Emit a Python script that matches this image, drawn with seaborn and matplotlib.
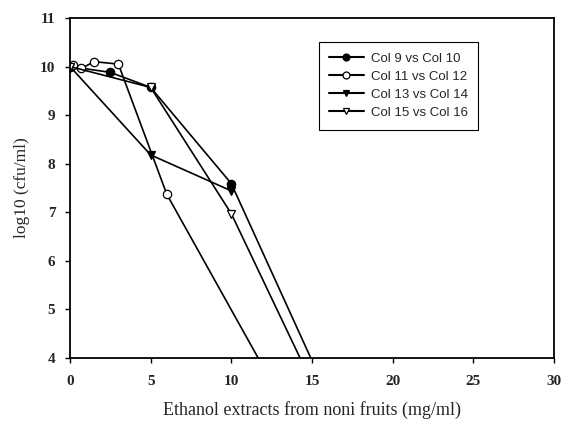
import numpy as np
import pandas as pd
import seaborn as sns
import matplotlib.pyplot as plt

# concentrations (mg/ml) and log10 counts for each pair of columns
x_9_10 = [0, 2.5, 5, 10, 20]
y_9_10 = [10.0, 9.88, 9.57, 7.59, 0.3]

x_11_12 = [0, 0.19, 0.7, 1.5, 3, 6, 12]
y_11_12 = [10.0, 10.03, 9.96, 10.1, 10.05, 7.37, 3.8]

x_13_14 = [0, 5, 10]
y_13_14 = [10.0, 8.18, 7.44]

x_15_16 = [0, 5, 10, 20]
y_15_16 = [10.0, 9.57, 6.97, 0.0]

labels = ['Col 9 vs Col 10', 'Col 11 vs Col 12', 'Col 13 vs Col 14', 'Col 15 vs Col 16']
x_ticks = [0, 5, 10, 15, 20, 25, 30]
y_ticks = [4, 5, 6, 7, 8, 9, 10, 11]

sns.set_style('ticks')
plt.rcParams['font.family'] = ['Liberation Serif', 'DejaVu Serif']

fig = plt.figure(figsize=(5.63, 4.24), dpi=100)
ax = fig.add_axes([0.1243, 0.1557, 0.8597, 0.802])

series = [
    (x_9_10, y_9_10, 'o', 'black'),
    (x_11_12, y_11_12, 'o', 'white'),
    (x_13_14, y_13_14, 'v', 'black'),
    (x_15_16, y_15_16, 'v', 'white'),
]

for (xs, ys, mk, fc), lab in zip(series, labels):
    df = pd.DataFrame({'x': xs, 'y': ys})
    sns.lineplot(data=df, x='x', y='y', ax=ax, sort=False, color='black',
                 linewidth=1.2, marker=mk, markersize=6,
                 markerfacecolor=fc, markeredgecolor='black',
                 markeredgewidth=0.9, label=lab)

ax.set_xlim(0, 30)
ax.set_ylim(4, 11)
ax.set_xticks(x_ticks)
ax.set_yticks(y_ticks)
for lbl in ax.get_xticklabels() + ax.get_yticklabels():
    lbl.set_fontweight('bold')
    lbl.set_fontsize(11)
ax.tick_params(axis='x', direction='out', length=3.5, width=1, color='black', pad=9)
ax.tick_params(axis='y', direction='out', length=3.5, width=1, color='black', pad=7)
for sp in ax.spines.values():
    sp.set_visible(True)
    sp.set_linewidth(1.3)
    sp.set_color('black')

ax.set_xlabel('Ethanol extracts from noni fruits (mg/ml)', fontsize=13, labelpad=9.5)
ax.set_ylabel('log10 (cfu/ml)', fontsize=12.5, labelpad=7)

handles, _ = ax.get_legend_handles_labels()
leg = ax.legend(handles, labels, loc='upper left', bbox_to_anchor=(0.514, 0.93),
                frameon=True, fancybox=False, edgecolor='black', framealpha=1,
                handlelength=2.6, handletextpad=0.55, borderpad=0.8,
                labelspacing=0.45, borderaxespad=0,
                prop={'family': 'Liberation Sans', 'size': 9.5})
leg.get_frame().set_linewidth(0.8)
# legend keys only: slightly smaller markers, heavier stroke
for ln in leg.get_lines():
    ln.set_markersize(5)
    ln.set_linewidth(1.5)

fig.savefig('out.png', dpi=100)
